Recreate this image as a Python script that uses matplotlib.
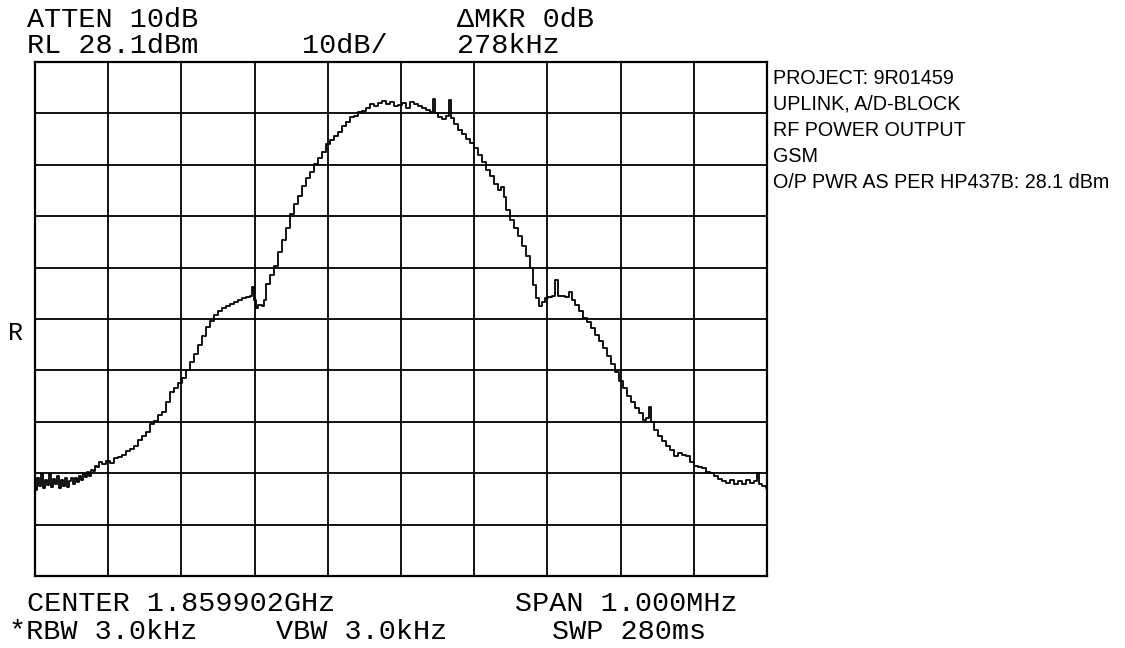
import matplotlib
matplotlib.use("Agg")
import matplotlib.pyplot as plt

# Analyzer settings
REF_LEVEL_DBM = 28.1
DB_PER_DIV = 10
SPAN_KHZ = 1000
N_DIV_X = 10
N_DIV_Y = 10

# Trace: offset from centre frequency (kHz) and level (dBm)
freq_khz = [
    -499, -496, -493, -490, -488, -485, -482, -480, -477, -474,
    -471, -469, -466, -463, -460, -458, -455, -452, -449, -447,
    -444, -441, -439, -436, -433, -430, -428, -425, -422, -419,
    -417, -414, -411, -406, -400, -395, -389, -384, -378, -373,
    -367, -362, -357, -351, -346, -340, -335, -329, -324, -318,
    -313, -307, -302, -296, -291, -286, -280, -275, -269, -264,
    -258, -253, -247, -242, -236, -231, -225, -220, -214, -209,
    -204, -202, -199, -197, -193, -188, -186, -182, -176, -171,
    -165, -160, -154, -149, -143, -138, -132, -127, -122, -116,
    -111, -105, -100, -94, -89, -83, -78, -72, -67, -61,
    -56, -51, -45, -40, -34, -29, -23, -18, -12, -7,
    -1, 4, 10, 15, 20, 26, 31, 37, 42, 45,
    48, 53, 59, 64, 67, 70, 75, 81, 86, 92,
    97, 102, 108, 113, 119, 124, 130, 135, 139, 142,
    146, 152, 157, 163, 168, 173, 179, 182, 187, 191,
    195, 199, 204, 209, 213, 216, 221, 227, 231, 235,
    240, 246, 251, 257, 262, 268, 273, 279, 284, 290,
    295, 301, 306, 311, 317, 322, 328, 333, 337, 340,
    343, 348, 354, 359, 365, 370, 376, 381, 387, 392,
    398, 403, 408, 414, 419, 425, 430, 436, 441, 447,
    452, 458, 463, 469, 474, 480, 485, 488, 490, 496,
    500,
]
level_dbm = [
    -55.2, -52.8, -54.4, -52.1, -54.8, -53.2, -54.2, -52.1, -54.6, -53.0,
    -54.0, -52.4, -54.8, -53.2, -54.4, -52.8, -54.6, -53.4, -52.8, -54.0,
    -52.8, -53.6, -52.4, -53.2, -52.1, -52.6, -51.7, -52.4, -51.3, -51.5,
    -50.5, -50.7, -49.7, -50.1, -49.5, -49.9, -48.9, -48.7, -48.4, -47.6,
    -47.2, -46.6, -45.4, -44.7, -43.9, -42.3, -41.7, -40.6, -40.0, -38.0,
    -36.1, -35.3, -34.4, -33.4, -31.8, -30.3, -28.7, -27.0, -25.2, -23.5,
    -22.3, -21.1, -20.3, -19.8, -19.4, -19.0, -18.6, -18.2, -17.8, -17.6,
    -17.4, -15.7, -18.2, -19.8, -19.2, -19.4, -18.2, -15.1, -13.3, -11.6,
    -8.9, -6.5, -4.2, -1.5, 0.5, 2.0, 4.0, 5.5, 6.7, 8.3,
    9.4, 10.6, 12.1, 12.9, 13.7, 14.5, 15.6, 16.4, 17.4, 17.6,
    18.4, 18.6, 19.2, 19.9, 19.5, 20.1, 20.5, 19.9, 20.3, 19.5,
    19.7, 20.1, 19.2, 20.3, 19.9, 19.5, 19.2, 18.8, 18.4, 20.9,
    18.2, 17.4, 17.0, 17.6, 20.7, 17.2, 16.0, 14.9, 14.1, 13.1,
    12.3, 11.4, 10.0, 8.6, 7.1, 5.9, 4.4, 3.2, 3.8, 1.8,
    -0.7, -2.6, -4.2, -5.8, -7.7, -9.6, -12.0, -15.3, -17.8, -19.4,
    -18.6, -17.8, -17.6, -17.4, -14.3, -17.4, -17.4, -17.6, -16.6, -18.2,
    -19.2, -20.3, -21.7, -22.5, -23.6, -25.0, -26.2, -27.5, -29.1, -30.7,
    -32.2, -34.0, -35.3, -36.9, -38.0, -39.2, -40.2, -41.5, -41.2, -39.0,
    -41.9, -43.5, -44.7, -45.6, -46.6, -47.4, -48.6, -48.0, -48.4, -48.6,
    -49.7, -50.5, -50.7, -50.9, -51.7, -51.9, -52.4, -53.0, -53.4, -53.8,
    -53.2, -54.0, -53.4, -54.0, -53.2, -53.8, -53.4, -51.9, -54.0, -54.4,
    -54.8,
]

header_lines = [
    ("ATTEN 10dB", 27, 27), ("\u0394MKR 0dB", 457, 27),
    ("RL 28.1dBm", 27, 53), ("10dB/", 302, 53), ("278kHz", 457, 53),
]
footer_lines = [
    ("CENTER 1.859902GHz", 27, 611), ("SPAN 1.000MHz", 515, 611),
    ("*RBW 3.0kHz", 9, 639), ("VBW 3.0kHz", 276, 639), ("SWP 280ms", 552, 639),
]
notes = [
    "PROJECT: 9R01459",
    "UPLINK, A/D-BLOCK",
    "RF POWER OUTPUT",
    "GSM",
    "O/P PWR AS PER HP437B: 28.1 dBm",
]

W, H = 1125, 648
fig = plt.figure(figsize=(W / 100, H / 100), dpi=100)
fig.patch.set_facecolor("white")

left, right, top, bottom = 35, 767, 62, 576
ax = fig.add_axes([left / W, 1 - bottom / H, (right - left) / W, (bottom - top) / H])

ax.plot(freq_khz, level_dbm, color="black", linewidth=1.3, drawstyle="steps-mid")

ax.set_xlim(-SPAN_KHZ / 2, SPAN_KHZ / 2)
ax.set_ylim(REF_LEVEL_DBM - DB_PER_DIV * N_DIV_Y, REF_LEVEL_DBM)
ax.set_xticks([-SPAN_KHZ / 2 + i * SPAN_KHZ / N_DIV_X for i in range(N_DIV_X + 1)])
ax.set_yticks([REF_LEVEL_DBM - i * DB_PER_DIV for i in range(N_DIV_Y + 1)])
ax.tick_params(length=0, labelbottom=False, labelleft=False)
ax.grid(True, color="black", linewidth=1.3)
for s in ax.spines.values():
    s.set_linewidth(1.6)
    s.set_color("black")

mono = dict(family="Liberation Mono", fontsize=20.5, color="black", va="baseline", ha="left")
for txt, x, y in header_lines + footer_lines:
    fig.text(x / W, 1 - y / H, txt, **mono)

fig.text(8 / W, 1 - 333 / H, "R", family="Liberation Mono", fontsize=18, va="center", ha="left")

for i, line in enumerate(notes):
    fig.text(773 / W, 1 - (78 + 26 * i) / H, line, family="Liberation Sans",
             fontsize=14.2, va="center", ha="left", color="black")

fig.savefig("out.png", dpi=100)
